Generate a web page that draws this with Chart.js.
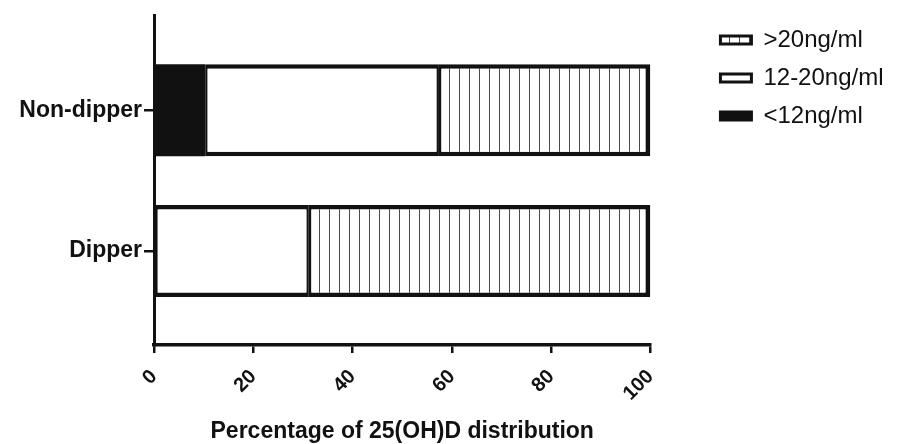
<!DOCTYPE html>
<html>
<head>
<meta charset="utf-8">
<script src="https://cdn.jsdelivr.net/npm/chart.js@4/dist/chart.umd.min.js"></script>
<style>
  body { margin: 0; background: #fff; overflow: hidden; }
</style>
</head>
<body>
<canvas id="myBarChart" width="908" height="444"></canvas>
<script>
// Data
const groups = ["Non-dipper", "Dipper"];
const groupPos = [1, 0];
const seriesNames = ["<12ng/ml", "12-20ng/ml", ">20ng/ml"];
const below12 = [10.3, 0];
const from12to20 = [47.1, 31.2];
const above20 = [42.6, 68.8];
const xTicks = [0, 20, 40, 60, 80, 100];

Chart.defaults.font.family = 'Arial, "Liberation Sans", sans-serif';
Chart.defaults.color = '#111';

const ink = '#111';

// vertical hatch used for the >20 ng/ml segments
function makeHatch() {
    const c = document.createElement('canvas');
    c.width = 10;
    c.height = 10;
    const g = c.getContext('2d');
    g.fillStyle = '#fff';
    g.fillRect(0, 0, 10, 10);
    g.fillStyle = '#4a4a4a';
    g.fillRect(9, 0, 1.6, 10);
    return g.createPattern(c, 'repeat');
}
const ctx = document.getElementById("myBarChart");
const hatch = makeHatch();

function toPoints(values) {
    return values.map((v, i) => ({ x: v, y: groupPos[i] }));
}

const edge = { top: 4.7, bottom: 4.7, left: 2.5, right: 2.5 };

const barData = {
    datasets: [{
        label: seriesNames[0],
        data: toPoints(below12),
        backgroundColor: ink,
        borderColor: ink,
        borderWidth: 0,
    }, {
        label: seriesNames[1],
        data: toPoints(from12to20),
        backgroundColor: '#fff',
        borderColor: ink,
        borderWidth: edge,
    }, {
        label: seriesNames[2],
        data: toPoints(above20),
        backgroundColor: hatch,
        borderColor: ink,
        borderWidth: { top: 4.7, bottom: 4.7, left: 2.5, right: 5 },
    }]
};

const barConfig = {
    type: 'bar',
    data: barData,
    options: {
        indexAxis: 'y',
        responsive: false,
        animation: false,
        datasets: {
            bar: {
                borderSkipped: false,
                categoryPercentage: 1,
                barPercentage: 0.655,
            }
        },
        layout: {
            padding: { top: 14, right: 14.5, bottom: 0, left: 0 }
        },
        scales: {
            x: {
                type: 'linear',
                stacked: true,
                min: 0,
                max: 100,
                afterBuildTicks: (s) => { s.ticks = xTicks.map(v => ({ value: v })); },
                afterFit: (s) => { s.height = 99; },
                ticks: {
                    minRotation: 45,
                    maxRotation: 45,
                    autoSkip: false,
                    padding: 12,
                    color: ink,
                    font: { size: 20, weight: 'bold' }
                },
                grid: {
                    drawOnChartArea: false,
                    tickLength: 8,
                    color: ink,
                    lineWidth: 2.5
                },
                border: { color: ink, width: 3.5 },
                title: {
                    display: true,
                    text: 'Percentage of 25(OH)D distribution',
                    color: ink,
                    padding: { top: 0, bottom: 0 },
                    font: { size: 23, weight: 'bold', lineHeight: 1.05 }
                }
            },
            y: {
                type: 'linear',
                stacked: true,
                offset: false,
                min: -0.668,
                max: 1.671,
                afterBuildTicks: (s) => { s.ticks = groupPos.map(v => ({ value: v })); },
                afterFit: (s) => { s.width = 154; },
                ticks: {
                    padding: 2,
                    color: ink,
                    font: { size: 23, weight: 'bold' },
                    callback: (v) => groups[groupPos.indexOf(v)]
                },
                grid: {
                    offset: false,
                    drawOnChartArea: false,
                    tickLength: 10,
                    color: ink,
                    lineWidth: 2.5
                },
                border: { color: ink, width: 3 }
            },
            // empty axis, only keeps the legend clear of the plot
            gap: {
                type: 'linear',
                axis: 'y',
                position: 'right',
                grid: { display: false },
                border: { display: false },
                ticks: { display: false },
                afterFit: (s) => { s.width = 56; }
            }
        },
        plugins: {
            legend: {
                position: 'right',
                align: 'start',
                reverse: true,
                maxWidth: 220,
                labels: {
                    boxWidth: 31,
                    boxHeight: 8,
                    padding: 14,
                    color: ink,
                    font: { size: 24 },
                    generateLabels: (chart) => {
                        const items = Chart.defaults.plugins.legend.labels.generateLabels(chart);
                        items.forEach(it => { it.lineWidth = 3; it.strokeStyle = ink; });
                        return items;
                    }
                }
            },
            tooltip: { enabled: false }
        }
    }
};

var myBarChart = new Chart(ctx, barConfig);
</script>
</body>
</html>
